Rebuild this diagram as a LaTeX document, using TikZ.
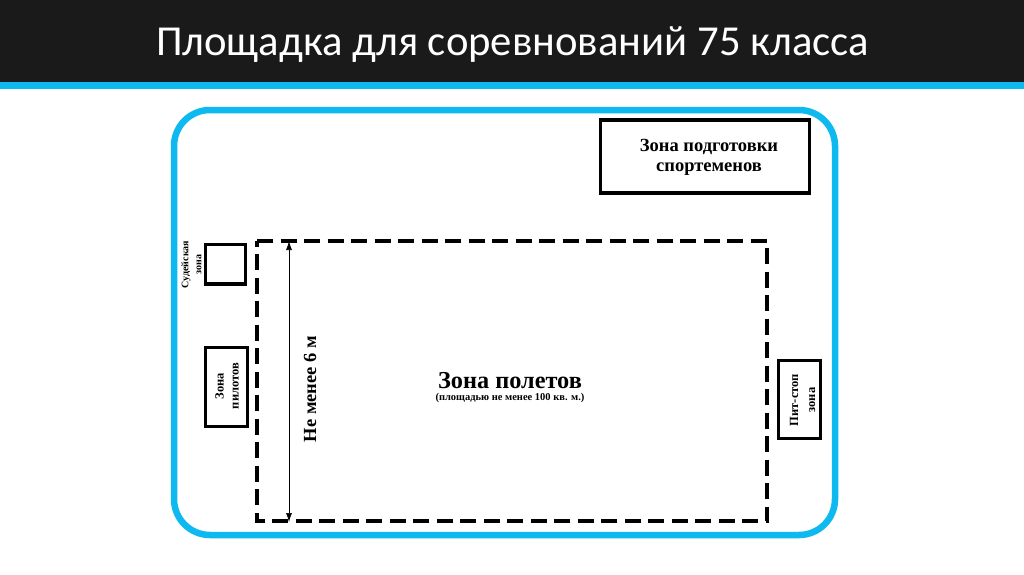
\documentclass[tikz,border=0pt]{standalone}
\usepackage{fontspec}
\setmainfont{Liberation Serif}
\newfontfamily\titlefont{Carlito}
\usetikzlibrary{arrows.meta}
\definecolor{bandblack}{HTML}{1A1A1A}
\definecolor{bandblue}{HTML}{0DB9EE}
\tikzset{
 x=1pt,y=-1pt,
 zonebox/.style={draw=black,line width=3.5pt,fill=white,inner sep=0pt},
 zonetext/.style={align=center,inner sep=0pt,text=black},
 flytext/.style={inner sep=0pt,text=black,anchor=base},
 sizefont/.style 2 args={font=\bfseries\fontsize{#1}{#2}\selectfont},
}
\begin{document}
\begin{tikzpicture}
\useasboundingbox (0,0) rectangle (1024,574);
\fill[white] (0,0) rectangle (1024,574);
\fill[bandblack] (0,0) rectangle (1024,82);
\fill[bandblue] (0,82) rectangle (1024,89);
\node[anchor=center,inner sep=0pt,text=white,font=\titlefont\fontsize{42.7}{50}\selectfont] (title) at (512.5,45) {Площадка для соревнований 75 класса};
\draw[bandblue,line width=6.5pt,rounded corners=36pt] (174,110) rectangle (835,535);
\draw[black,line width=4pt,dash pattern=on 16pt off 7.5pt] (257,241) -- (767,241) -- (767,521) -- (257,521) -- cycle;
\coordinate (dimtop) at (289,241);
\coordinate (dimbot) at (289,522);
\draw[black,line width=0.7pt,{Latex[length=9pt,width=6pt]}-{Latex[length=9pt,width=6pt]}] (dimtop) -- (dimbot);
\draw[zonebox] (600.5,120) rectangle (809.5,193);
\node[zonetext,sizefont={18.5}{20.5}] (prep) at (709,157.5) {Зона подготовки\\спортеменов};
\draw[zonebox] (205.5,244.5) rectangle (245.5,284);
\node[zonetext,sizefont={10}{13},rotate=90] (judge) at (191.5,264.5) {Судейская\\зона};
\draw[zonebox] (205.5,347.5) rectangle (247.5,426.5);
\node[zonetext,sizefont={12.5}{15},rotate=90] (pilots) at (227,386) {Зона\\пилотов};
\draw[zonebox] (778.5,360.5) rectangle (820.5,438.5);
\node[zonetext,sizefont={12.5}{17},rotate=90] (pit) at (802.5,400) {Пит-стоп\\зона};
\node[zonetext,sizefont={18.5}{22},rotate=90] (six) at (310,389) {Не менее 6 м};
\node[flytext,sizefont={24.3}{28}] (fly) at (510,388.5) {Зона полетов};
\node[flytext,sizefont={10.5}{12}] (area) at (510,400.5) {(площадью не менее 100 кв. м.)};
\end{tikzpicture}
\end{document}
